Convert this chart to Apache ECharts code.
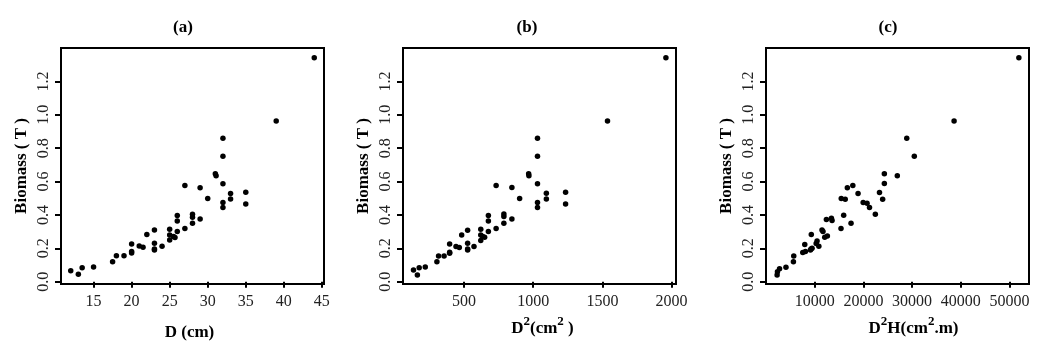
<!DOCTYPE html>
<html>
<head>
<meta charset="utf-8">
<script src="https://cdn.jsdelivr.net/npm/echarts@6/dist/echarts.min.js"></script>
<style>
html,body{margin:0;padding:0;background:#fff;}
#chart{width:1062px;height:360px;}
</style>
</head>
<body>
<div id="chart"></div>
<script>
// ---- data ----
// panel (a): D (cm) vs biomass (T)
const dataA = [
  [12,0.066],[13,0.044],[13.5,0.084],[15,0.088],[17.5,0.120],[18,0.156],[19,0.156],
  [20,0.226],[20,0.180],[20,0.172],[21,0.214],[21.5,0.206],[22,0.282],
  [23,0.310],[23,0.230],[23,0.196],[23,0.190],[24,0.212],
  [25,0.314],[25,0.280],[25,0.250],[25.5,0.270],[25.7,0.265],
  [26,0.300],[26,0.364],[26,0.396],[27,0.318],[27,0.576],
  [28,0.350],[28,0.386],[28,0.404],[29,0.376],[29,0.562],[30,0.498],
  [31,0.646],[31.1,0.634],[32,0.860],[32,0.752],[32,0.586],[32,0.474],[32,0.444],
  [33,0.528],[33,0.496],[35,0.536],[35,0.466],[39,0.962],[44,1.342]
];
// panel (b): D^2 (cm^2) vs biomass (T)
const dataB = [
  [135,0.070],[163,0.040],[176,0.084],[220,0.088],[304,0.120],[316,0.154],[356,0.154],
  [396,0.176],[396,0.170],[396,0.226],[442,0.210],[466,0.204],[483,0.280],
  [526,0.308],[526,0.230],[526,0.196],[526,0.190],[572,0.210],
  [621,0.314],[621,0.280],[621,0.246],[635,0.270],[649,0.266],
  [676,0.300],[676,0.364],[676,0.396],[732,0.318],[732,0.576],
  [788,0.350],[788,0.390],[788,0.406],[846,0.376],[846,0.564],[902,0.498],
  [967,0.646],[969,0.634],[1031,0.860],[1031,0.752],[1031,0.586],[1031,0.474],[1031,0.444],
  [1095,0.530],[1095,0.496],[1234,0.536],[1234,0.466],[1537,0.962],[1959,1.342]
];
// panel (c): D^2H (cm^2.m) vs biomass (T)
const dataC = [
  [2280,0.040],[2350,0.060],[2780,0.078],[4100,0.086],[5630,0.120],[5700,0.154],
  [7550,0.174],[7960,0.222],[8100,0.180],[9120,0.190],[9250,0.196],[9300,0.282],[9460,0.200],
  [10300,0.228],[10486,0.244],[10850,0.212],[11500,0.310],[11700,0.300],[12060,0.266],
  [12600,0.274],[12400,0.372],[13430,0.380],[13560,0.366],[15400,0.318],[15950,0.398],
  [15450,0.498],[16270,0.494],[17460,0.350],[16700,0.562],[17830,0.576],[18900,0.528],
  [19950,0.474],[20750,0.470],[21250,0.444],[22450,0.404],[23300,0.534],[23950,0.494],
  [24300,0.588],[24300,0.646],[26960,0.634],[28900,0.860],[30450,0.752],[38620,0.962],
  [51920,1.342]
];
// tick labels
const yTicks = [0.0,0.2,0.4,0.6,0.8,1.0,1.2];
const xTicksA = [15,20,25,30,35,40,45];
const xTicksB = [500,1000,1500,2000];
const xTicksC = [10000,20000,30000,40000,50000];
const panelTitles = ['(a)','(b)','(c)'];
const yName = 'Biomass ( T )';

// ---- styling ----
const FONT = '"Liberation Serif","Times New Roman",serif';
const grids = [
  {left:61, top:48, width:263, height:236},
  {left:403, top:48, width:273, height:236},
  {left:766, top:48, width:263, height:236}
];
const xRanges = [[10.72,45.28],[59,2032],[0,54000]];
const xTickSets = [xTicksA, xTicksB, xTicksC];
const boldTxt = {fontFamily:FONT, fontWeight:'bold', fontSize:17, color:'#000', verticalAlign:'bottom'};
const supTxt = {fontFamily:FONT, fontWeight:'bold', fontSize:13, color:'#000', verticalAlign:'bottom', padding:[0,0,9,0]};
const xNames = [
  {name:'D (cm)', gap:57, pad:[0,6,0,0]},
  {name:'{m|D}{s|2}{m|(cm}{s|2}{m| )}', gap:48, pad:[0,0,0,6]},
  {name:'{m|D}{s|2}{m|H(cm}{s|2}{m|.m)}', gap:48, pad:[0,0,0,32]}
];
const titleX = [183, 527, 888];

const option = {
  backgroundColor:'#fff',
  animation:false,
  grid: grids.map(g => Object.assign({show:true, borderColor:'#000', borderWidth:2, backgroundColor:'transparent', containLabel:false}, g)),
  xAxis: grids.map((g,i) => ({
    type:'value', gridIndex:i, min:xRanges[i][0], max:xRanges[i][1],
    name: xNames[i].name, nameLocation:'middle', nameGap: xNames[i].gap,
    nameTextStyle: Object.assign({}, boldTxt, {padding: xNames[i].pad, rich:{m:boldTxt, s:supTxt}}),
    axisLine:{show:false},
    axisTick:{show:true, length:6, lineStyle:{color:'#000', width:2}, customValues:xTickSets[i]},
    axisLabel:{show:true, margin:10, fontFamily:FONT, fontSize:16, color:'#222', customValues:xTickSets[i],
               formatter: v => String(v)},
    splitLine:{show:false}
  })),
  yAxis: grids.map((g,i) => ({
    type:'value', gridIndex:i, min:-0.014, max:1.40,
    name: yName, nameLocation:'middle', nameGap:31,
    nameTextStyle:{fontFamily:FONT, fontWeight:'bold', fontSize:17, color:'#000'},
    axisLine:{show:false},
    axisTick:{show:true, length:6, lineStyle:{color:'#000', width:2}, customValues:yTicks},
    axisLabel:{show:true, rotate:90, margin:9, fontFamily:FONT, fontSize:16, color:'#222', customValues:yTicks,
               formatter: v => Number(v).toFixed(1)},
    splitLine:{show:false}
  })),
  series: [dataA, dataB, dataC].map((d,i) => ({
    type:'scatter', xAxisIndex:i, yAxisIndex:i, data:d,
    symbol:'circle', symbolSize:5.5, itemStyle:{color:'#000', opacity:1}, emphasis:{disabled:true}
  })),
  graphic: panelTitles.map((t,i) => ({
    type:'text', x:titleX[i], y:28,
    style:{text:t, font:'bold 17px ' + FONT, fill:'#000', textAlign:'center', textVerticalAlign:'middle'}
  }))
};
const chart = echarts.init(document.getElementById('chart'), null, {renderer:'canvas'});
chart.setOption(option);
</script>
</body>
</html>
